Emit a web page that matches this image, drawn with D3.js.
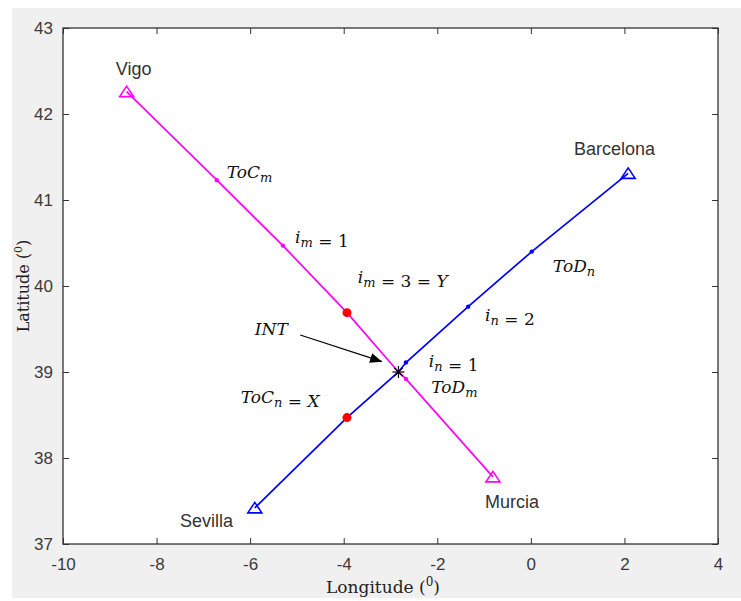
<!DOCTYPE html>
<html lang="en">
<head>
  <meta charset="UTF-8" />
  <title>Route intersection</title>
  <script src="https://d3js.org/d3.v7.min.js"></script>
  <style>
    body { margin: 0; background: #fff; }
    text { white-space: pre; }
  </style>
</head>
<body>
  <svg id="chart" width="741" height="601"></svg>

  <script>
    // tick values
    const xTicks = [-10, -8, -6, -4, -2, 0, 2, 4];
    const yTicks = [37, 38, 39, 40, 41, 42, 43];

    // route m: Vigo -> Murcia (lon, lat), waypoints
    const routeM = [
      [-8.64, 42.26], [-6.71, 41.23], [-5.30, 40.47], [-3.93, 39.69],
      [-2.83, 39.00], [-2.67, 38.92], [-0.81, 37.78]
    ];
    // route n: Sevilla -> Barcelona
    const routeN = [
      [-5.90, 37.42], [-3.93, 38.47], [-2.83, 39.00], [-2.67, 39.11],
      [-1.34, 39.76], [0.02, 40.40], [2.08, 41.31]
    ];

    const cities = [
      { name: "Vigo", lon: -8.64, lat: 42.26, route: "m" },
      { name: "Murcia", lon: -0.81, lat: 37.78, route: "m" },
      { name: "Sevilla", lon: -5.90, lat: 37.42, route: "n" },
      { name: "Barcelona", lon: 2.08, lat: 41.31, route: "n" }
    ];
    const smallM = [[-6.71, 41.23], [-5.30, 40.47], [-2.67, 38.92]];
    const smallN = [[-2.67, 39.11], [-1.34, 39.76], [0.02, 40.40]];
    const redPts = [[-3.93, 39.69], [-3.93, 38.47]];
    const intPt = [-2.83, 39.00];

    // text anchors (data coords, left / baseline)
    const cityLabels = [
      { t: "Vigo", lon: -8.87, lat: 42.45 },
      { t: "Barcelona", lon: 0.92, lat: 41.52 },
      { t: "Sevilla", lon: -7.50, lat: 37.20 },
      { t: "Murcia", lon: -0.98, lat: 37.42 }
    ];
    const mathLabels = [
      { t: "ToC_m", lon: -6.50, lat: 41.26 },
      { t: "i_m = 1", lon: -5.04, lat: 40.50 },
      { t: "i_m = 3 = Y", lon: -3.70, lat: 40.03 },
      { t: "ToD_n", lon: 0.47, lat: 40.16 },
      { t: "INT", lon: -5.90, lat: 39.43 },
      { t: "ToC_n = X", lon: -6.20, lat: 38.64 },
      { t: "i_n = 2", lon: -0.98, lat: 39.59 },
      { t: "i_n = 1", lon: -2.18, lat: 39.06 },
      { t: "ToD_m", lon: -2.13, lat: 38.76 }
    ];
    const arrowFrom = [-4.93, 39.43];
    const arrowTo = [-3.18, 39.12];

    const colM = "#ff00ff";
    const colN = "#0000ff";

    const svg = d3.select("#chart");
    const pL = 63, pR = 718, pT = 28, pB = 544;

    const x = d3.scaleLinear().domain([-10, 4]).range([pL, pR]);
    const y = d3.scaleLinear().domain([37, 43]).range([pB, pT]);
    const fmt = d => String(d);

    // figure background
    svg.append("rect").attr("x", 12).attr("y", 8)
      .attr("width", 741 - 12).attr("height", 598 - 8).attr("fill", "#f0f0f0");
    svg.append("rect").attr("x", pL).attr("y", pT)
      .attr("width", pR - pL).attr("height", pB - pT).attr("fill", "#fff");

    function styleAxis(g) {
      g.select(".domain").remove();
      g.selectAll("line").attr("stroke", "#333").attr("stroke-width", 1);
      g.selectAll("text").attr("fill", "#3a3a3a")
        .attr("font-family", "Liberation Sans, Arial, sans-serif").attr("font-size", 17);
    }

    svg.append("g").attr("transform", `translate(0,${pB})`)
      .call(d3.axisBottom(x).tickValues(xTicks).tickFormat(fmt).tickSizeInner(-6).tickSizeOuter(0).tickPadding(14))
      .call(styleAxis);
    svg.append("g").attr("transform", `translate(${pL},0)`)
      .call(d3.axisLeft(y).tickValues(yTicks).tickFormat(fmt).tickSizeInner(-6).tickSizeOuter(0).tickPadding(10))
      .call(styleAxis);
    svg.append("g").attr("transform", `translate(0,${pT})`)
      .call(d3.axisTop(x).tickValues(xTicks).tickSizeInner(-6).tickSizeOuter(0).tickFormat(""))
      .call(styleAxis);
    svg.append("g").attr("transform", `translate(${pR},0)`)
      .call(d3.axisRight(y).tickValues(yTicks).tickSizeInner(-6).tickSizeOuter(0).tickFormat(""))
      .call(styleAxis);

    svg.append("rect").attr("x", pL).attr("y", pT)
      .attr("width", pR - pL).attr("height", pB - pT)
      .attr("fill", "none").attr("stroke", "#333").attr("stroke-width", 1.3);

    // routes
    const line = d3.line().x(d => x(d[0])).y(d => y(d[1]));
    svg.append("path").datum(routeM).attr("d", line)
      .attr("fill", "none").attr("stroke", colM).attr("stroke-width", 1.7);
    svg.append("path").datum(routeN).attr("d", line)
      .attr("fill", "none").attr("stroke", colN).attr("stroke-width", 1.7);

    // small waypoint dots
    svg.selectAll(".dm").data(smallM).join("circle")
      .attr("cx", d => x(d[0])).attr("cy", d => y(d[1])).attr("r", 2.2).attr("fill", colM);
    svg.selectAll(".dn").data(smallN).join("circle")
      .attr("cx", d => x(d[0])).attr("cy", d => y(d[1])).attr("r", 2.2).attr("fill", colN);

    svg.selectAll(".red").data(redPts).join("circle")
      .attr("cx", d => x(d[0])).attr("cy", d => y(d[1])).attr("r", 4.5).attr("fill", "#ff0000");

    // city triangles
    const tri = "M0,-5.5L7,5L-7,5Z";
    svg.selectAll(".tri").data(cities).join("path")
      .attr("d", tri)
      .attr("transform", d => `translate(${x(d.lon)},${y(d.lat)})`)
      .attr("fill", "none")
      .attr("stroke", d => d.route === "m" ? colM : colN)
      .attr("stroke-width", 1.6);

    // intersection asterisk
    const star = svg.append("g").attr("transform", `translate(${x(intPt[0])},${y(intPt[1])})`);
    [0, 45, 90, 135].forEach(a => {
      star.append("line").attr("x1", -6).attr("x2", 6)
        .attr("transform", `rotate(${a})`)
        .attr("stroke", "#000").attr("stroke-width", 1.2);
    });

    // arrow INT
    svg.append("defs").append("marker")
      .attr("id", "head").attr("viewBox", "0 0 12 10")
      .attr("refX", 12).attr("refY", 5)
      .attr("markerWidth", 12).attr("markerHeight", 10)
      .attr("markerUnits", "userSpaceOnUse").attr("orient", "auto")
      .append("path").attr("d", "M0,0L12,5L0,10Z").attr("fill", "#000");
    svg.append("line")
      .attr("x1", x(arrowFrom[0])).attr("y1", y(arrowFrom[1]))
      .attr("x2", x(arrowTo[0])).attr("y2", y(arrowTo[1]))
      .attr("stroke", "#000").attr("stroke-width", 1.2)
      .attr("marker-end", "url(#head)");

    // city names
    svg.selectAll(".city").data(cityLabels).join("text")
      .attr("x", d => x(d.lon)).attr("y", d => y(d.lat))
      .attr("font-family", "Liberation Sans, Arial, sans-serif").attr("font-size", 18)
      .attr("fill", "#333").text(d => d.t);

    // math style labels: letters italic, '_' makes next char a subscript
    function mathText(el, str) {
      let sub = false;
      for (let i = 0; i < str.length; i++) {
        const c = str[i];
        if (c === "_") { sub = true; continue; }
        const ts = el.append("tspan").text(c);
        if (/[A-Za-z]/.test(c)) ts.attr("font-style", "italic");
        if (sub) {
          ts.attr("font-size", 13).attr("dy", 4);
          el.append("tspan").attr("dy", -4).text("");
          sub = false;
        }
      }
    }
    svg.selectAll(".math").data(mathLabels).join("text")
      .attr("x", d => x(d.lon)).attr("y", d => y(d.lat))
      .attr("font-family", "DejaVu Serif, serif").attr("font-size", 17)
      .attr("fill", "#111")
      .each(function (d) { mathText(d3.select(this), d.t); });

    // axis titles
    const xt = svg.append("text").attr("x", 383).attr("y", 593)
      .attr("text-anchor", "middle")
      .attr("font-family", "DejaVu Serif, serif").attr("font-size", 17).attr("fill", "#222");
    xt.append("tspan").text("Longitude (");
    xt.append("tspan").attr("dy", -7).attr("font-size", 12).text("0");
    xt.append("tspan").attr("dy", 7).text(")");

    const yt = svg.append("text")
      .attr("transform", "translate(29,286) rotate(-90)")
      .attr("text-anchor", "middle")
      .attr("font-family", "DejaVu Serif, serif").attr("font-size", 16).attr("fill", "#222");
    yt.append("tspan").text("Latitude (");
    yt.append("tspan").attr("dy", -7).attr("font-size", 11).text("0");
    yt.append("tspan").attr("dy", 7).text(")");
  </script>
</body>
</html>
